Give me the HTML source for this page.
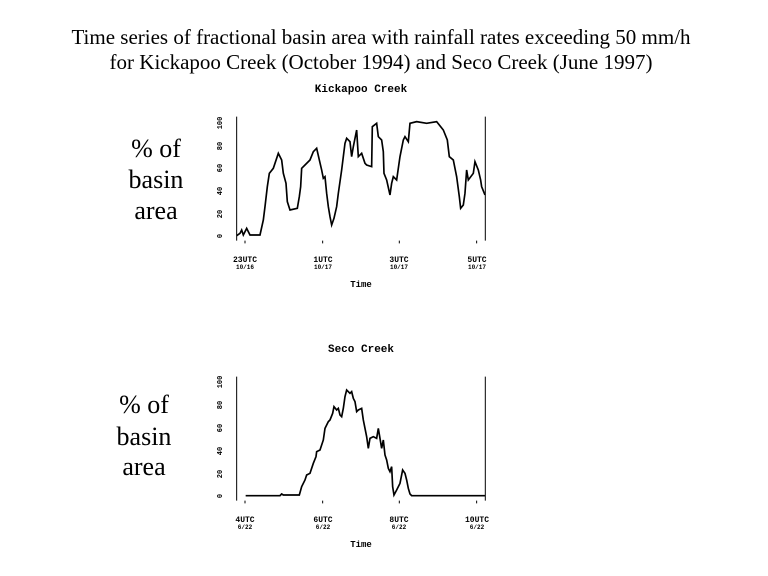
<!DOCTYPE html>
<html><head><meta charset="utf-8"><style>
html,body{margin:0;padding:0;background:#fff;width:768px;height:576px;overflow:hidden}
</style></head><body>
<svg width="768" height="576" viewBox="0 0 768 576" xmlns="http://www.w3.org/2000/svg">
<g font-family="Liberation Serif, serif" font-size="21" text-anchor="middle" fill="#000">
<text x="381" y="44">Time series of fractional basin area with rainfall rates exceeding 50 mm/h</text>
<text x="381" y="69">for Kickapoo Creek (October 1994) and Seco Creek (June 1997)</text>
</g>
<g font-family="Liberation Serif, serif" font-size="26" text-anchor="middle" fill="#000">
<text x="156" y="157">% of</text><text x="156" y="188">basin</text><text x="156" y="219">area</text>
<text x="144" y="413">% of</text><text x="144" y="445">basin</text><text x="144" y="475">area</text>
</g>
<g font-family="Liberation Mono, monospace" font-weight="bold" fill="#000" text-anchor="middle">
<text x="361" y="92" font-size="11">Kickapoo Creek</text>
<text x="361" y="352" font-size="11">Seco Creek</text>
<text x="361" y="287" font-size="9">Time</text>
<text x="361" y="547" font-size="9">Time</text>
<g font-size="8">
<text x="245" y="262">23UTC</text><text x="245" y="269" font-size="6">10/16</text>
<text x="323" y="262">1UTC</text><text x="323" y="269" font-size="6">10/17</text>
<text x="399" y="262">3UTC</text><text x="399" y="269" font-size="6">10/17</text>
<text x="477" y="262">5UTC</text><text x="477" y="269" font-size="6">10/17</text>
<text x="245" y="522">4UTC</text><text x="245" y="529" font-size="6">6/22</text>
<text x="323" y="522">6UTC</text><text x="323" y="529" font-size="6">6/22</text>
<text x="399" y="522">8UTC</text><text x="399" y="529" font-size="6">6/22</text>
<text x="477" y="522">10UTC</text><text x="477" y="529" font-size="6">6/22</text>
</g>
<g font-size="7">
<text transform="translate(222,123) rotate(-90)">100</text>
<text transform="translate(222,146) rotate(-90)">80</text>
<text transform="translate(222,168) rotate(-90)">60</text>
<text transform="translate(222,191) rotate(-90)">40</text>
<text transform="translate(222,214) rotate(-90)">20</text>
<text transform="translate(222,236) rotate(-90)">0</text>
<text transform="translate(222,382) rotate(-90)">100</text>
<text transform="translate(222,405) rotate(-90)">80</text>
<text transform="translate(222,428) rotate(-90)">60</text>
<text transform="translate(222,451) rotate(-90)">40</text>
<text transform="translate(222,474) rotate(-90)">20</text>
<text transform="translate(222,496) rotate(-90)">0</text>
</g>
</g>
<g transform="translate(210,80) scale(0.3333)" fill="none" stroke="#000">
<path d="M80,110V482M826,110V482M105,482v8M338,482v8M568,482v8M800,482v8" stroke-width="3"/>
<polyline stroke-width="5" points="80,467 90,460 95,450 100,465 110,445 120,465 150,465 160,420 165,380 172,320 178,280 190,265 195,250 205,220 215,240 220,280 228,310 232,365 240,390 262,385 268,350 272,320 275,265 285,255 300,240 310,215 320,205 328,240 335,270 340,295 345,290 350,340 355,380 360,410 365,435 372,415 380,380 385,340 395,270 400,230 405,190 410,175 420,185 425,230 430,200 440,150 445,230 455,220 465,250 470,255 485,260 487,140 500,130 505,170 515,180 520,215 522,280 530,300 540,345 545,310 550,290 560,300 570,230 580,180 585,170 595,185 600,130 620,125 650,130 680,125 700,150 712,180 718,230 730,240 740,290 748,350 752,385 760,375 765,340 770,270 775,300 790,280 795,245 805,270 812,300 815,320 825,345"/>
</g>
<g transform="translate(210,340) scale(0.3333)" fill="none" stroke="#000">
<path d="M80,110V482M826,110V482M105,482v8M338,482v8M568,482v8M800,482v8" stroke-width="3"/>
<polyline stroke-width="5" points="107,467 210,467 215,462 220,465 230,465 268,465 275,440 285,420 290,405 300,400 310,370 318,350 320,335 330,330 340,300 345,265 355,245 360,240 368,220 372,200 380,210 385,205 390,225 395,230 400,205 405,170 410,150 420,160 425,155 430,175 435,185 440,215 445,210 455,205 460,240 465,265 470,290 475,325 480,295 490,290 500,295 505,265 510,295 515,325 520,300 525,345 530,360 535,385 540,395 545,380 548,440 552,465 560,450 570,430 578,390 585,400 590,420 595,445 600,462 605,467 825,467"/>
</g>
</svg>
</body></html>
